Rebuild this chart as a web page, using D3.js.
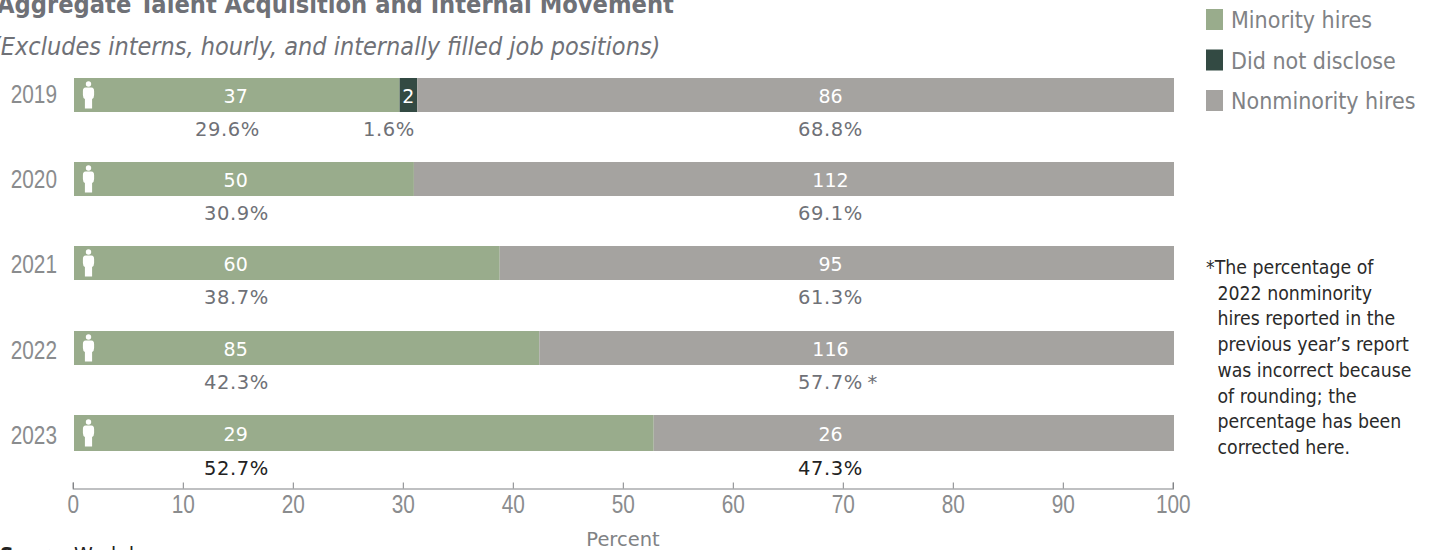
<!DOCTYPE html>
<html><head><meta charset="utf-8">
<script src="https://cdn.jsdelivr.net/npm/d3@7"></script>
<style>
html,body{margin:0;padding:0;background:#fff;overflow:hidden}
svg{display:block}
.verd{font-family:"DejaVu Sans",sans-serif}
.cond{font-family:"DejaVu Sans Condensed","DejaVu Sans",sans-serif;font-stretch:condensed}
.thin{font-family:"Liberation Sans",sans-serif}
</style></head><body>
<svg id="chart" width="1432" height="550"></svg>
<script>
const years = ["2019","2020","2021","2022","2023"];
const minorityHires = [37,50,60,85,29];
const notDisclosed = [2,0,0,0,0];
const nonminorityHires = [86,112,95,116,26];
const minorityPct = [29.6,30.9,38.7,42.3,52.7];
const undisclosedPct = [1.6,0,0,0,0];
const nonminorityPct = [68.8,69.1,61.3,57.7,47.3];
const pctNotes = ["","","","*",""];
const seriesNames = ["Minority hires","Did not disclose","Nonminority hires"];
const seriesColors = ["#99ac8c","#334a43","#a5a3a0"];
const xTicks = [0,10,20,30,40,50,60,70,80,90,100];
const footnote = ["*The percentage of","2022 nonminority","hires reported in the","previous year\u2019s report","was incorrect because","of rounding; the","percentage has been","corrected here."];

const svg = d3.select("#chart");
const x = d3.scaleLinear().domain([0,100]).range([74,1174]);
const y = d3.scaleBand().domain(years).range([78,448.8]).paddingInner(0.5962).paddingOuter(0);
const yearY = d3.scalePoint().domain(years).range([102.5,444]);
const bh = y.bandwidth();
const barH = i => i === 4 ? bh + 2 : bh;   // the last bar is slightly taller
const leftColumn = 14.7, rightColumn = 68.77;   // count and share labels sit in fixed columns

// Heading, clipped by the top edge of the page
svg.append("text").attr("class","cond").attr("x",-3).attr("y",13)
  .attr("font-size",25.2).attr("font-weight",700).attr("fill","#6f7177")
  .text("Aggregate Talent Acquisition and Internal Movement");
svg.append("text").attr("class","cond").attr("x",-8).attr("y",55)
  .attr("font-size",25).attr("font-style","italic").attr("fill","#6f7177")
  .text("(Excludes interns, hourly, and internally filled job positions)");

// Stacked percentage bars
const rows = years.map((yr,i)=>({yr,i,parts:[
  {s:0,i,start:0,end:minorityPct[i],n:minorityHires[i],p:minorityPct[i]},
  {s:1,i,start:minorityPct[i],end:minorityPct[i]+undisclosedPct[i],n:notDisclosed[i],p:undisclosedPct[i]},
  {s:2,i,start:minorityPct[i]+undisclosedPct[i],end:100,n:nonminorityHires[i],p:nonminorityPct[i]}
].filter(d=>d.n>0)}));

const rowG = svg.selectAll("g.row").data(rows).join("g").attr("class","row")
  .attr("transform",d=>`translate(0,${Math.round(y(d.yr))})`);
rowG.selectAll("rect").data(d=>d.parts).join("rect")
  .attr("x",d=>x(d.start)).attr("width",d=>x(d.end)-x(d.start))
  .attr("y",0).attr("height",d=>barH(d.i)).attr("fill",d=>seriesColors[d.s]);

const countX = d => d.s===0 ? x(leftColumn) : d.s===2 ? x(rightColumn) : x((d.start+d.end)/2);

// Hire counts inside the bars
rowG.selectAll("text.count").data(d=>d.parts).join("text").attr("class","count verd")
  .attr("x",countX).attr("y",d=>barH(d.i)/2+8.5)
  .attr("text-anchor","middle").attr("font-size",19).attr("fill","#fff")
  .text(d=>d.n);

// Shares below the bars
rowG.selectAll("text.pct").data(d=>d.parts).join("text").attr("class","pct verd")
  .attr("x",d=>{
    if (d.s===2) return x(rightColumn)-32.5;
    if (d.s===1) return x((d.start+d.end)/2)-19.5;
    return x(leftColumn+0.07)-(d.i===0?9:0);
  })
  .attr("y",d=>barH(d.i)+24.5)
  .attr("text-anchor",d=>d.s===2?"start":"middle").attr("font-size",19.5).attr("letter-spacing",0.6)
  .attr("fill",d=>d.i===4?"#222":"#6f7177")
  .text(d=>d.p.toFixed(1)+"%"+(d.s===2&&pctNotes[d.i]?"\u2009"+pctNotes[d.i]:""));

// Person pictogram at the start of each bar
const person = rowG.append("g").attr("transform",d=>`translate(88.5,${d.i===4?1:0})`).attr("fill","#fff");
person.append("circle").attr("cx",0).attr("cy",6).attr("r",2.7);
person.append("path").attr("d","M-5.6,13 Q-5.6,9.5 -3,9.5 L3,9.5 Q5.6,9.5 5.6,13 L5.6,17 Q5.6,20 3.6,21 L3.6,30.5 L-3.6,30.5 L-3.6,21 Q-5.6,20 -5.6,17 Z");

// Years, in a narrowed face
const narrow = 0.8;
svg.selectAll("text.year").data(years).join("text").attr("class","year thin")
  .attr("transform",d=>`translate(57,${yearY(d)}) scale(${narrow},1)`).attr("text-anchor","end")
  .attr("font-size",26).attr("fill","#8a8c8e").text(d=>d);

// Percent axis
const axis = d3.axisBottom(x).tickValues(xTicks).tickSize(-6).tickPadding(6);
const ax = svg.append("g").attr("transform","translate(-1.2,488.5)").call(axis);
ax.select(".domain").attr("stroke","#808285").attr("stroke-width",1.2);
ax.selectAll(".tick line").attr("stroke","#808285").attr("stroke-width",1);
ax.selectAll(".tick text").attr("font-size",26).attr("fill","#8a8c8e")
  .attr("transform",`scale(${narrow},1)`)
  .style("font-family",'"Liberation Sans",sans-serif');
svg.append("text").attr("class","verd").attr("x",623).attr("y",546).attr("text-anchor","middle")
  .attr("font-size",19.5).attr("fill","#808285").text("Percent");

// Source line, clipped by the bottom edge of the page
svg.append("text").attr("class","verd").attr("x",0).attr("y",561).attr("font-size",19)
  .attr("font-weight",700).attr("fill","#222").text("Source:");
svg.append("text").attr("class","verd").attr("x",74).attr("y",561).attr("font-size",19)
  .attr("fill","#222").text("Workday.");

// Legend
const lg = svg.selectAll("g.lg").data(seriesNames).join("g").attr("class","lg")
  .attr("transform",(d,i)=>`translate(1206,${9+i*40.5})`);
lg.append("rect").attr("width",17).attr("height",21).attr("fill",(d,i)=>seriesColors[i]);
lg.append("text").attr("class","cond").attr("x",25).attr("y",19).attr("font-size",23)
  .attr("fill","#808285").text(d=>d);

// Footnote
svg.append("text").attr("class","cond").attr("font-size",19.3).attr("fill","#2a2a2a")
  .selectAll("tspan").data(footnote).join("tspan")
  .attr("x",(d,i)=>i?1217.5:1206).attr("y",(d,i)=>274+i*25.7).text(d=>d);
</script></body></html>
